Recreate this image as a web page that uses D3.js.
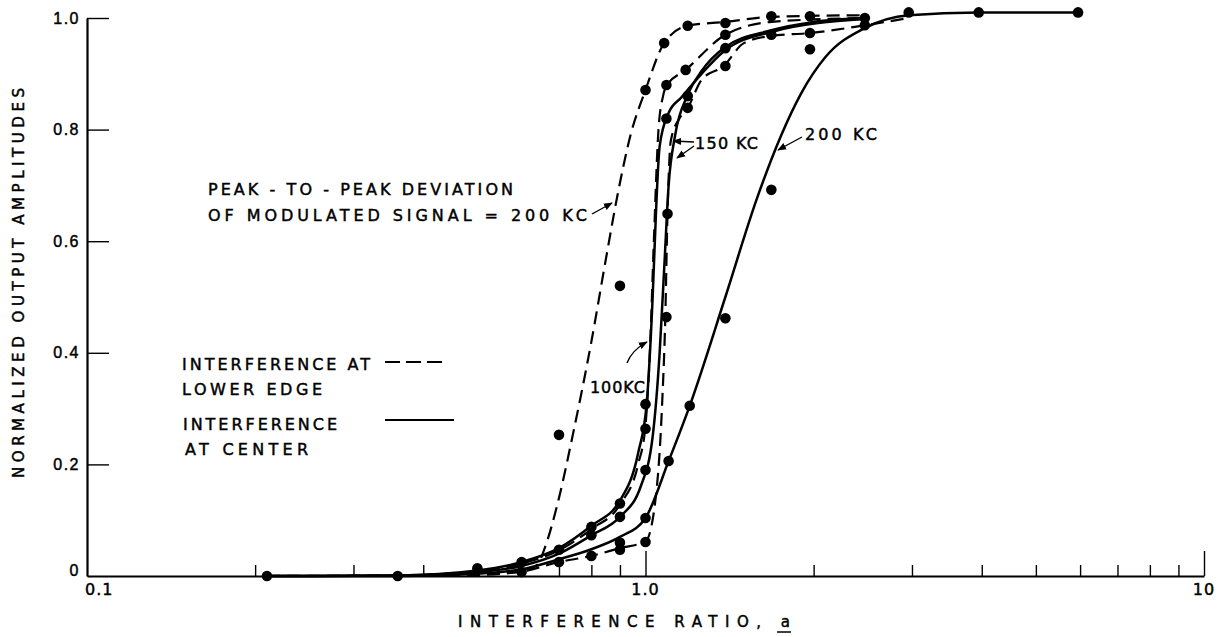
<!DOCTYPE html>
<html>
<head>
<meta charset="utf-8">
<script src="https://cdn.jsdelivr.net/npm/d3@7"></script>
<style>
  html, body { margin: 0; padding: 0; background: #fff; }
  svg { display: block; font-family: "DejaVu Sans", "Liberation Sans", sans-serif; }
  svg text { stroke: #000; stroke-width: 0.45px; fill: #000; }
</style>
</head>
<body>
<svg id="chart" width="1221" height="637"></svg>
<script>
// ---------------- data ----------------
const yTickValues = [0, 0.2, 0.4, 0.6, 0.8, 1.0];
const yTickLabels = ["0", "0.2", "0.4", "0.6", "0.8", "1.0"];
const xMinorTicks = [0.2, 0.3, 0.4, 0.5, 0.6, 0.7, 0.8, 0.9, 2, 3, 4, 5, 6, 7, 8, 9];
const xMajorTicks = [1, 10];
const xTickLabels = [[0.1, "0.1"], [1, "1.0"], [10, "10"]];

// curves: [interference ratio a, normalized output amplitude]
const lowerEdge200 = [[0.21,0],[0.36,0],[0.5,0.003],[0.6,0.008],[0.64,0.02],[0.66,0.05],[0.7,0.14],[0.74,0.25],[0.8,0.42],[0.85,0.57],[0.89,0.68],[0.94,0.79],[1.0,0.871],[1.08,0.955],[1.19,0.986],[1.39,0.993],[1.68,1.002],[2.47,1.005]];
const lowerEdge100 = [[0.21,0],[0.36,0.001],[0.5,0.008],[0.6,0.022],[0.7,0.046],[0.8,0.084],[0.9,0.128],[0.97,0.2],[1.0,0.27],[1.02,0.42],[1.035,0.6],[1.055,0.8],[1.075,0.86],[1.09,0.878],[1.18,0.907],[1.39,0.97],[1.68,0.993],[2.47,1.0]];
const lowerEdge150 = [[0.21,0],[0.36,0],[0.5,0.002],[0.6,0.008],[0.7,0.025],[0.8,0.036],[0.9,0.05],[1.0,0.062],[1.04,0.13],[1.07,0.3],[1.085,0.464],[1.095,0.649],[1.11,0.78],[1.15,0.82],[1.19,0.839],[1.26,0.889],[1.38,0.914],[1.5,0.955],[1.68,0.968],[1.97,0.973],[2.47,0.987],[2.96,1.0]];
const center100 = [[0.21,0],[0.36,0.001],[0.5,0.01],[0.6,0.025],[0.7,0.05],[0.8,0.09],[0.9,0.135],[0.97,0.22],[1.005,0.31],[1.03,0.5],[1.045,0.66],[1.06,0.77],[1.1,0.83],[1.16,0.858],[1.26,0.9],[1.38,0.94],[1.68,0.975],[2.47,0.998]];
const center150 = [[0.21,0],[0.36,0.001],[0.5,0.007],[0.6,0.018],[0.7,0.04],[0.8,0.073],[0.9,0.106],[0.98,0.16],[1.03,0.25],[1.06,0.4],[1.08,0.55],[1.1,0.7],[1.13,0.79],[1.19,0.862],[1.26,0.905],[1.38,0.946],[1.68,0.978],[2.0,0.993],[2.47,1.0]];
const center200 = [[0.21,0],[0.36,0],[0.5,0.004],[0.6,0.012],[0.7,0.03],[0.8,0.048],[0.9,0.07],[1.0,0.104],[1.1,0.206],[1.2,0.305],[1.39,0.5],[1.58,0.674],[1.75,0.79],[1.9,0.865],[2.1,0.93],[2.47,0.982],[2.96,1.005],[3.95,1.01],[5.95,1.01]];

const measuredPoints = [
  [0.21,0],[0.36,0],[0.5,0.014],[0.6,0.025],[0.6,0.007],
  [0.7,0.253],[0.7,0.047],[0.7,0.025],
  [0.8,0.088],[0.8,0.073],[0.8,0.036],
  [0.9,0.52],[0.9,0.13],[0.9,0.106],[0.9,0.06],[0.9,0.047],
  [1.0,0.871],[1.0,0.308],[1.0,0.264],[1.0,0.19],[1.0,0.104],[1.0,0.061],
  [1.08,0.955],[1.09,0.88],[1.09,0.82],[1.095,0.649],[1.09,0.464],[1.1,0.206],
  [1.19,0.986],[1.18,0.907],[1.19,0.86],[1.19,0.839],[1.2,0.305],
  [1.39,0.991],[1.39,0.97],[1.39,0.946],[1.39,0.914],[1.39,0.462],
  [1.68,1.003],[1.68,0.97],[1.68,0.692],
  [1.97,1.003],[1.97,0.973],[1.97,0.944],
  [2.47,1.0],[2.47,0.987],
  [2.96,1.01],[3.95,1.01],[5.95,1.01]
];

const seriesList = [
  {name: "lowerEdge200", data: lowerEdge200, dashed: true},
  {name: "lowerEdge100", data: lowerEdge100, dashed: true},
  {name: "lowerEdge150", data: lowerEdge150, dashed: true},
  {name: "center100", data: center100, dashed: false},
  {name: "center150", data: center150, dashed: false},
  {name: "center200", data: center200, dashed: false}
];

const yTitle = "NORMALIZED OUTPUT AMPLITUDES";
const xTitle = "INTERFERENCE RATIO, ";
const xTitleVar = "a";
const noteLines = ["PEAK - TO - PEAK DEVIATION", "OF MODULATED SIGNAL = 200 KC"];
const legendLabels = [["INTERFERENCE AT", "LOWER EDGE"], ["INTERFERENCE", "AT CENTER"]];
const curveLabels = ["150 KC", "200 KC", "100KC"];

// ---------------- drawing ----------------
const svg = d3.select("#chart");
const x = d3.scaleLog().domain([0.1, 10]).range([87, 1204]);
const y = d3.scaleLinear().domain([0, 1]).range([576, 18]);

const defs = svg.append("defs");
defs.append("marker").attr("id", "arrow").attr("viewBox", "0 0 10 10")
  .attr("refX", 9).attr("refY", 5).attr("markerWidth", 9).attr("markerHeight", 9)
  .attr("markerUnits", "userSpaceOnUse").attr("orient", "auto")
  .append("path").attr("d", "M0,1 L10,5 L0,9 Z").attr("fill", "#000");

// Y axis
const yAxis = d3.axisLeft(y).tickValues(yTickValues)
  .tickFormat((d, i) => yTickLabels[i]).tickSizeInner(-22).tickSizeOuter(0).tickPadding(7);
const gy = svg.append("g").attr("transform", `translate(${x(0.1)},0)`).call(yAxis);
gy.select(".domain").attr("stroke", "#000").attr("stroke-width", 2.2);
gy.selectAll(".tick line").attr("stroke", "#000").attr("stroke-width", 1.4)
  .filter(d => d === 0).remove();
gy.selectAll(".tick text").attr("font-size", 16).attr("fill", "#000").attr("letter-spacing", 1.5)
  .attr("dy", d => d === 0 ? "-0.05em" : "0.32em");

// X axis minor & major ticks
const xAxisMinor = d3.axisBottom(x).tickValues(xMinorTicks).tickFormat("").tickSizeInner(-11).tickSizeOuter(0);
const gxm = svg.append("g").attr("transform", `translate(0,${y(0)})`).call(xAxisMinor);
gxm.select(".domain").attr("stroke", "#000").attr("stroke-width", 2.2);
gxm.selectAll(".tick line").attr("stroke", "#000").attr("stroke-width", 1.4);
const xAxisMajor = d3.axisBottom(x).tickValues(xMajorTicks).tickFormat("").tickSizeInner(-25).tickSizeOuter(0);
const gxM = svg.append("g").attr("transform", `translate(0,${y(0)})`).call(xAxisMajor);
gxM.select(".domain").remove();
gxM.selectAll(".tick line").attr("stroke", "#000").attr("stroke-width", 1.4);
svg.append("g").selectAll("text").data(xTickLabels).join("text")
  .attr("x", d => x(d[0]) + (d[0] === 0.1 ? -2 : 0))
  .attr("y", y(0) + 19)
  .attr("text-anchor", d => d[0] === 0.1 ? "start" : "middle")
  .attr("font-size", 16).attr("letter-spacing", 1)
  .text(d => d[1]);

// axis titles
svg.append("text").attr("transform", `translate(24,283) rotate(-90)`)
  .attr("text-anchor", "middle").attr("font-size", 15)
  .attr("textLength", 390).attr("lengthAdjust", "spacing").text(yTitle);
const xt = svg.append("text").attr("x", 458).attr("y", 627).attr("font-size", 15)
  .attr("textLength", 332).attr("lengthAdjust", "spacing");
xt.append("tspan").text(xTitle);
xt.append("tspan").text(xTitleVar);
svg.append("line").attr("x1", 777).attr("x2", 791).attr("y1", 632).attr("y2", 632)
  .attr("stroke", "#000").attr("stroke-width", 1.5);

// curves
const line = d3.line().x(d => x(d[0])).y(d => y(d[1])).curve(d3.curveMonotoneX);
svg.append("g").selectAll("path").data(seriesList).join("path")
  .attr("d", d => line(d.data))
  .attr("fill", "none").attr("stroke", "#000")
  .attr("stroke-width", d => d.dashed ? 2.2 : 2.5)
  .attr("stroke-dasharray", d => d.dashed ? "13,7" : null);

// measured points
svg.append("g").selectAll("circle").data(measuredPoints).join("circle")
  .attr("cx", d => x(d[0])).attr("cy", d => y(d[1])).attr("r", 5.3).attr("fill", "#000");

// note
const note = svg.append("g").attr("font-size", 16).attr("fill", "#000");
note.append("text").attr("x", 208).attr("y", 195).attr("textLength", 305).attr("lengthAdjust", "spacing").text(noteLines[0]);
note.append("text").attr("x", 208).attr("y", 221).attr("textLength", 379).attr("lengthAdjust", "spacing").text(noteLines[1]);

// legend
const leg = svg.append("g").attr("font-size", 16).attr("fill", "#000");
leg.append("text").attr("x", 182).attr("y", 370).attr("textLength", 188).attr("lengthAdjust", "spacing").text(legendLabels[0][0]);
leg.append("text").attr("x", 182).attr("y", 395).attr("textLength", 140).attr("lengthAdjust", "spacing").text(legendLabels[0][1]);
leg.append("text").attr("x", 183).attr("y", 430).attr("textLength", 154).attr("lengthAdjust", "spacing").text(legendLabels[1][0]);
leg.append("text").attr("x", 185).attr("y", 455).attr("textLength", 123).attr("lengthAdjust", "spacing").text(legendLabels[1][1]);
svg.append("line").attr("x1", 385).attr("x2", 448).attr("y1", 362).attr("y2", 362)
  .attr("stroke", "#000").attr("stroke-width", 2).attr("stroke-dasharray", "15,6");
svg.append("line").attr("x1", 385).attr("x2", 454).attr("y1", 420).attr("y2", 420)
  .attr("stroke", "#000").attr("stroke-width", 2);

// curve labels
const lab = svg.append("g").attr("font-size", 16).attr("fill", "#000");
lab.append("text").attr("x", 695).attr("y", 149).attr("textLength", 63).attr("lengthAdjust", "spacing").text(curveLabels[0]);
lab.append("text").attr("x", 805).attr("y", 140).attr("textLength", 72).attr("lengthAdjust", "spacing").text(curveLabels[1]);
lab.append("text").attr("x", 590).attr("y", 393).attr("textLength", 55).attr("lengthAdjust", "spacing").text(curveLabels[2]);

// arrows
const arrows = svg.append("g").attr("fill", "none").attr("stroke", "#000").attr("stroke-width", 1.4);
arrows.append("path").attr("d", "M592,214 L612,203").attr("marker-end", "url(#arrow)");
arrows.append("path").attr("d", "M694,142 L673,141").attr("marker-end", "url(#arrow)");
arrows.append("path").attr("d", "M694,146 L677,158").attr("marker-end", "url(#arrow)");
arrows.append("path").attr("d", "M802,137 L778,150").attr("marker-end", "url(#arrow)");
arrows.append("path").attr("d", "M627,363 Q632,350 647,342").attr("marker-end", "url(#arrow)");
</script>
</body>
</html>
